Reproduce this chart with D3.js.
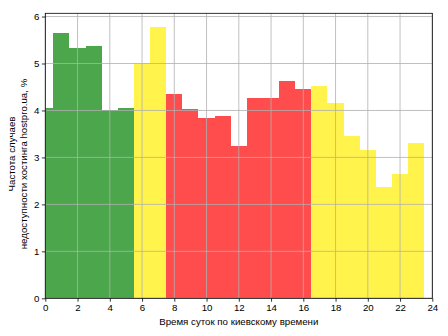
<!DOCTYPE html>
<html>
<head>
<meta charset="utf-8">
<script src="https://cdn.jsdelivr.net/npm/d3@7/dist/d3.min.js"></script>
<style>
  html, body { margin: 0; padding: 0; background: #fff; }
  svg { display: block; }
  text { font-family: "Liberation Sans", Arial, sans-serif; fill: #000; }
</style>
</head>
<body>
<svg id="chart" width="448" height="336"></svg>
<script>
// Hour of day (Kyiv time)
const hours = [0, 1, 2, 3, 4, 5, 6, 7, 8, 9, 10, 11, 12, 13, 14, 15, 16, 17, 18, 19, 20, 21, 22, 23];
// Share of downtime incidents per hour, %
const frequency = [4.06, 5.65, 5.33, 5.38, 4.01, 4.06, 5.01, 5.78, 4.35, 4.03, 3.83, 3.89, 3.25, 4.27, 4.27, 4.63, 4.46, 4.52, 4.16, 3.46, 3.16, 2.38, 2.65, 3.31];
// Load level for each hour
const level = ["low", "low", "low", "low", "low", "low", "mid", "mid",
               "high", "high", "high", "high", "high", "high", "high", "high", "high",
               "mid", "mid", "mid", "mid", "mid", "mid", "mid"];
const xTicks = [0, 2, 4, 6, 8, 10, 12, 14, 16, 18, 20, 22, 24];
const yTicks = [0, 1, 2, 3, 4, 5, 6];
const xLabel = "Время суток по киевскому времени";
const yLabelLines = ["Частота случаев", "недоступности хостинга hostpro.ua, %"];

const levelColor = d3.scaleOrdinal()
  .domain(["low", "mid", "high"])
  .range(["#4ca64c", "#fff34c", "#ff4c4c"]);

const svg = d3.select("#chart");
const m = { left: 45.3, right: 432.3, top: 13.3, bottom: 298.3 };

const x = d3.scaleLinear().domain([0, 24]).range([m.left, m.right]);
const y = d3.scaleLinear().domain([0, d3.max(frequency) * 1.05]).range([m.bottom, m.top]);

svg.append("clipPath").attr("id", "plot-clip")
  .append("rect")
  .attr("x", m.left).attr("y", m.top)
  .attr("width", m.right - m.left).attr("height", m.bottom - m.top);

// Bars: one hour wide, centred on the hour
svg.append("g").attr("clip-path", "url(#plot-clip)")
  .selectAll("rect")
  .data(hours)
  .join("rect")
  .attr("x", (h) => x(h - 0.5))
  .attr("width", (h) => x(h + 0.5) - x(h - 0.5))
  .attr("y", (h, i) => y(frequency[i]))
  .attr("height", (h, i) => y(0) - y(frequency[i]))
  .attr("fill", (h, i) => levelColor(level[i]))
  .attr("shape-rendering", "crispEdges");

// Grid drawn over the bars
const grid = svg.append("g").attr("stroke", "#b0b0b0").attr("stroke-width", 0.8);
grid.selectAll("line.vx").data(xTicks).join("line")
  .attr("x1", (d) => x(d)).attr("x2", (d) => x(d))
  .attr("y1", m.top).attr("y2", m.bottom);
grid.selectAll("line.hy").data(yTicks).join("line")
  .attr("x1", m.left).attr("x2", m.right)
  .attr("y1", (d) => y(d)).attr("y2", (d) => y(d));

// Axes
const xAxis = svg.append("g")
  .attr("transform", `translate(0,${m.bottom})`)
  .call(d3.axisBottom(x).tickValues(xTicks).tickFormat(d3.format("d")).tickSize(3.4).tickPadding(2.5));
const yAxis = svg.append("g")
  .attr("transform", `translate(${m.left},0)`)
  .call(d3.axisLeft(y).tickValues(yTicks).tickFormat(d3.format("d")).tickSize(3.4).tickPadding(2.5));
[xAxis, yAxis].forEach((g) => {
  g.select(".domain").remove();
  g.selectAll(".tick line").attr("stroke", "#000").attr("stroke-width", 0.8);
  g.selectAll(".tick text").style("font-size", "9.7px")
    .style("font-family", "'Liberation Sans', Arial, sans-serif");
});

// Frame
svg.append("rect")
  .attr("x", m.left).attr("y", m.top)
  .attr("width", m.right - m.left).attr("height", m.bottom - m.top)
  .attr("fill", "none").attr("stroke", "#000").attr("stroke-width", 0.8);

// Axis titles
svg.append("text")
  .attr("x", (m.left + m.right) / 2).attr("y", 325)
  .attr("text-anchor", "middle")
  .style("font-size", "9.7px")
  .text(xLabel);

// Two-line vertical title
const yLabelPos = [
  { x: 15.2, y: 154 },
  { x: 26.8, y: 164 }
];
yLabelLines.forEach((line, i) => {
  const p = yLabelPos[i];
  svg.append("text")
    .attr("transform", `translate(${p.x},${p.y}) rotate(-90)`)
    .attr("text-anchor", "middle")
    .style("font-size", "9.7px")
    .text(line);
});
</script>
</body>
</html>
